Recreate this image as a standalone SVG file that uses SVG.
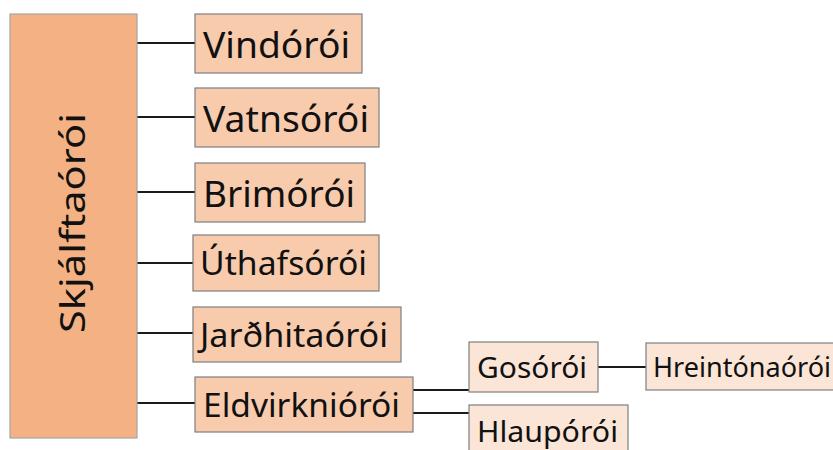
<svg xmlns="http://www.w3.org/2000/svg" width="833" height="450" viewBox="0 0 833 450">
  <style>
    .root { fill: #F4B183; stroke: #A5A5A5; stroke-width: 1.2; }
    .l1 { fill: #F8CBAD; stroke: #7F7F7F; stroke-width: 1.2; }
    .l2 { fill: #FBE5D6; stroke: #7F7F7F; stroke-width: 1.2; }
    .lbl { font-family: "Noto Sans", "Open Sans", sans-serif; fill: #111; }
    .conn { stroke: #1A1A1A; stroke-width: 1.8; fill: none; }
  </style>
  <rect width="833" height="450" fill="#FFFFFF"/>

  <!-- connectors -->
  <g id="connectors">
    <line class="conn" x1="137" y1="43" x2="195" y2="43"/>
    <line class="conn" x1="137" y1="117" x2="195" y2="117"/>
    <line class="conn" x1="137" y1="192" x2="195" y2="192"/>
    <line class="conn" x1="137" y1="263" x2="193" y2="263"/>
    <line class="conn" x1="137" y1="333" x2="193" y2="333"/>
    <line class="conn" x1="137" y1="403" x2="195" y2="403"/>
    <line class="conn" x1="413" y1="390" x2="469" y2="390"/>
    <line class="conn" x1="413" y1="413" x2="469" y2="413"/>
    <line class="conn" x1="598" y1="367" x2="646" y2="367"/>
  </g>

  <!-- root node -->
  <g id="skjalftaoroi">
    <rect class="root" x="10" y="14" width="127" height="424"/>
    <text class="lbl" font-size="35" text-anchor="middle" transform="translate(85 223) rotate(-90)" textLength="220" lengthAdjust="spacingAndGlyphs">Skjálftaórói</text>
  </g>

  <!-- first level -->
  <g id="vindoroi">
    <rect class="l1" x="195" y="14" width="167" height="59"/>
    <text class="lbl" x="203" y="58" font-size="37" textLength="147" lengthAdjust="spacingAndGlyphs">Vindórói</text>
  </g>
  <g id="vatnsoroi">
    <rect class="l1" x="195" y="88" width="184" height="59"/>
    <text class="lbl" x="203" y="132" font-size="37" textLength="166" lengthAdjust="spacingAndGlyphs">Vatnsórói</text>
  </g>
  <g id="brimoroi">
    <rect class="l1" x="195" y="163" width="170" height="59"/>
    <text class="lbl" x="203" y="207" font-size="37" textLength="152" lengthAdjust="spacingAndGlyphs">Brimórói</text>
  </g>
  <g id="uthafsoroi">
    <rect class="l1" x="193" y="235" width="186" height="56"/>
    <text class="lbl" x="200" y="275" font-size="32" textLength="167" lengthAdjust="spacingAndGlyphs">Úthafsórói</text>
  </g>
  <g id="jardhitaoroi">
    <rect class="l1" x="193" y="307" width="208" height="55"/>
    <text class="lbl" x="200" y="347" font-size="32" textLength="188" lengthAdjust="spacingAndGlyphs">Jarðhitaórói</text>
  </g>
  <g id="eldvirknioroi">
    <rect class="l1" x="195" y="377" width="218" height="55"/>
    <text class="lbl" x="203" y="417" font-size="32" textLength="197" lengthAdjust="spacingAndGlyphs">Eldvirkniórói</text>
  </g>

  <!-- second level -->
  <g id="gosoroi">
    <rect class="l2" x="469" y="342" width="129" height="50"/>
    <text class="lbl" x="477" y="378" font-size="29" textLength="110" lengthAdjust="spacingAndGlyphs">Gosórói</text>
  </g>
  <g id="hlauporoi">
    <rect class="l2" x="469" y="405" width="159" height="55"/>
    <text class="lbl" x="477" y="442" font-size="29" textLength="141" lengthAdjust="spacingAndGlyphs">Hlaupórói</text>
  </g>
  <g id="hreintonaoroi">
    <rect class="l2" x="646" y="343" width="195" height="47"/>
    <text class="lbl" x="653" y="377" font-size="27" textLength="178" lengthAdjust="spacingAndGlyphs">Hreintónaórói</text>
  </g>
</svg>
